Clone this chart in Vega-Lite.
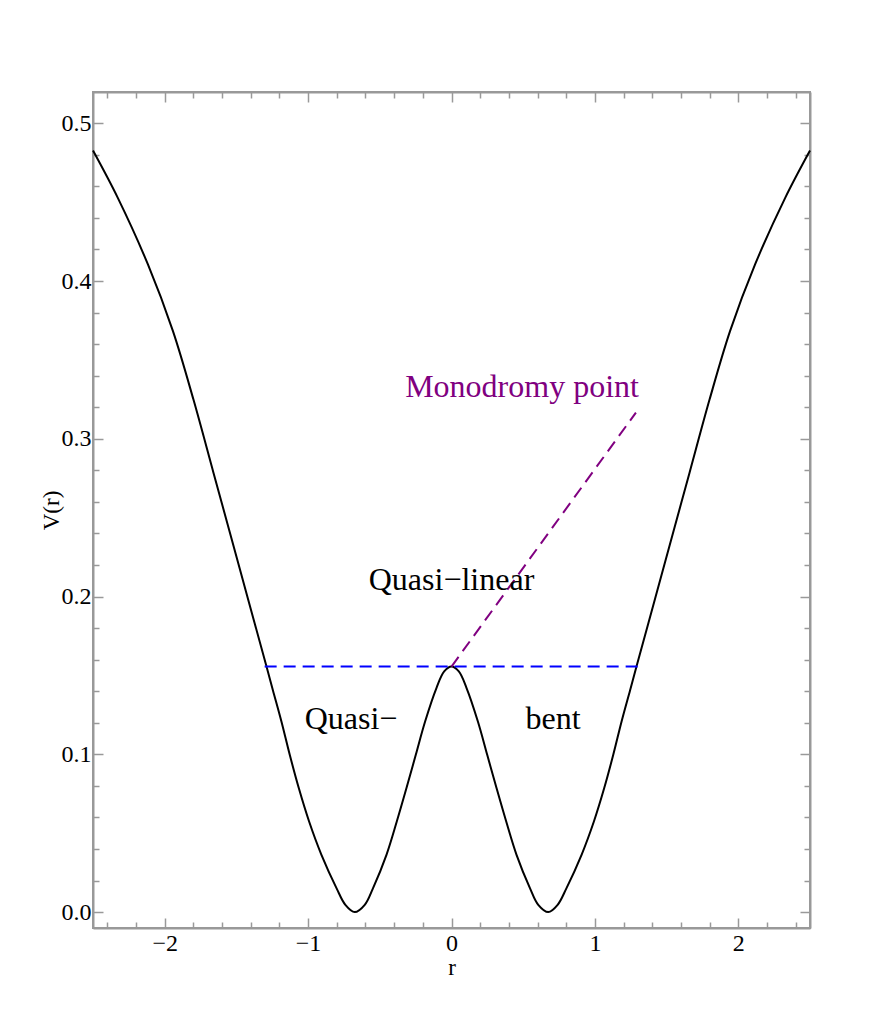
{
  "$schema": "https://vega.github.io/schema/vega-lite/v6.json",
  "width": 717,
  "height": 836,
  "autosize": {"type": "none"},
  "padding": {"left": 93, "top": 92, "right": 79, "bottom": 81},
  "background": "white",
  "config": {
    "view": {"stroke": "#999999", "strokeWidth": 2},
    "font": "Liberation Serif",
    "axis": {
      "domainColor": "#999999",
      "domainWidth": 2,
      "tickColor": "#999999",
      "tickWidth": 1.5,
      "labelFont": "Liberation Serif",
      "labelFontSize": 24,
      "labelColor": "black",
      "titleFont": "Liberation Serif",
      "titleFontSize": 23,
      "titleFontWeight": "normal",
      "titleColor": "black",
      "grid": false,
      "labelOverlap": false,
      "labelFlush": false
    }
  },
  "datasets": {
    "curve": [
      {"r": -2.5, "v": 0.4827},
      {"r": -2.327, "v": 0.4527},
      {"r": -2.117, "v": 0.4105},
      {"r": -1.943, "v": 0.3684},
      {"r": -1.8, "v": 0.325},
      {"r": -1.66, "v": 0.2785},
      {"r": -1.55, "v": 0.242},
      {"r": -1.42, "v": 0.1988},
      {"r": -1.29, "v": 0.1556},
      {"r": -1.245, "v": 0.1405},
      {"r": -1.186, "v": 0.1208},
      {"r": -1.128, "v": 0.0997},
      {"r": -1.065, "v": 0.0786},
      {"r": -0.993, "v": 0.0574},
      {"r": -0.907, "v": 0.0363},
      {"r": -0.802, "v": 0.0152},
      {"r": -0.74, "v": 0.0046},
      {"r": -0.675, "v": 0.0},
      {"r": -0.605, "v": 0.0046},
      {"r": -0.547, "v": 0.0152},
      {"r": -0.4535, "v": 0.0363},
      {"r": -0.3816, "v": 0.0574},
      {"r": -0.314, "v": 0.0786},
      {"r": -0.249, "v": 0.0997},
      {"r": -0.184, "v": 0.1208},
      {"r": -0.105, "v": 0.142},
      {"r": -0.051, "v": 0.1525},
      {"r": 0.0, "v": 0.1556},
      {"r": 0.051, "v": 0.1525},
      {"r": 0.105, "v": 0.142},
      {"r": 0.184, "v": 0.1208},
      {"r": 0.249, "v": 0.0997},
      {"r": 0.314, "v": 0.0786},
      {"r": 0.3816, "v": 0.0574},
      {"r": 0.4535, "v": 0.0363},
      {"r": 0.547, "v": 0.0152},
      {"r": 0.605, "v": 0.0046},
      {"r": 0.675, "v": 0.0},
      {"r": 0.74, "v": 0.0046},
      {"r": 0.802, "v": 0.0152},
      {"r": 0.907, "v": 0.0363},
      {"r": 0.993, "v": 0.0574},
      {"r": 1.065, "v": 0.0786},
      {"r": 1.128, "v": 0.0997},
      {"r": 1.186, "v": 0.1208},
      {"r": 1.245, "v": 0.1405},
      {"r": 1.29, "v": 0.1556},
      {"r": 1.42, "v": 0.1988},
      {"r": 1.55, "v": 0.242},
      {"r": 1.66, "v": 0.2785},
      {"r": 1.8, "v": 0.325},
      {"r": 1.943, "v": 0.3684},
      {"r": 2.117, "v": 0.4105},
      {"r": 2.327, "v": 0.4527},
      {"r": 2.5, "v": 0.4827}
    ],
    "level": [
      {"r": -1.303, "v": 0.1556},
      {"r": 1.298, "v": 0.1556}
    ],
    "mono": [
      {"r": 0.0, "v": 0.1556},
      {"r": 1.286, "v": 0.3166}
    ],
    "purpleText": [
      {"r": 0.492, "v": 0.3329, "label": "Monodromy point"}
    ],
    "blackText": [
      {"r": 0.0, "v": 0.2103, "label": "Quasi−linear"},
      {"r": -0.701, "v": 0.1226, "label": "Quasi−"},
      {"r": 0.708, "v": 0.1226, "label": "bent"}
    ]
  },
  "resolve": {"axis": {"x": "independent", "y": "independent"}},
  "layer": [
    {
      "data": {"name": "curve"},
      "mark": {"type": "line", "color": "black", "strokeWidth": 2, "interpolate": "catmull-rom"},
      "encoding": {
        "x": {
          "field": "r", "type": "quantitative",
          "scale": {"domain": [-2.5, 2.5], "nice": false, "zero": false},
          "axis": {
            "orient": "bottom",
            "title": "r",
            "values": [-2.4, -2.2, -2, -1.8, -1.6, -1.4, -1.2, -1, -0.8, -0.6, -0.4, -0.2, 0, 0.2, 0.4, 0.6, 0.8, 1, 1.2, 1.4, 1.6, 1.8, 2, 2.2, 2.4],
            "labelExpr": "abs(datum.value % 1) < 0.001 ? replace(format(datum.value, 'd'), '-', '−') : ''",
            "tickSize": {"condition": {"test": "abs(datum.value % 1) < 0.001", "value": -10}, "value": -6},
            "labelPadding": 13,
            "titlePadding": -3
          }
        },
        "y": {
          "field": "v", "type": "quantitative",
          "scale": {"domain": [-0.0101, 0.5198], "nice": false, "zero": false},
          "axis": {
            "orient": "left",
            "title": "V(r)",
            "values": [0, 0.02, 0.04, 0.06, 0.08, 0.1, 0.12, 0.14, 0.16, 0.18, 0.2, 0.22, 0.24, 0.26, 0.28, 0.3, 0.32, 0.34, 0.36, 0.38, 0.4, 0.42, 0.44, 0.46, 0.48, 0.5],
            "labelExpr": "round(datum.value * 100) % 10 === 0 ? format(datum.value, '.1f') : ''",
            "tickSize": {"condition": {"test": "round(datum.value * 100) % 10 === 0", "value": -10}, "value": -6},
            "labelPadding": 12,
            "titlePadding": -2
          }
        }
      }
    },
    {
      "data": {"name": "level"},
      "mark": {"type": "line", "color": "#0000ff", "strokeWidth": 2, "strokeDash": [12, 7]},
      "encoding": {
        "x": {
          "field": "r", "type": "quantitative",
          "scale": {"domain": [-2.5, 2.5], "nice": false, "zero": false},
          "axis": {
            "orient": "top",
            "title": null,
            "labels": false,
            "values": [-2.4, -2.2, -2, -1.8, -1.6, -1.4, -1.2, -1, -0.8, -0.6, -0.4, -0.2, 0, 0.2, 0.4, 0.6, 0.8, 1, 1.2, 1.4, 1.6, 1.8, 2, 2.2, 2.4],
            "tickSize": {"condition": {"test": "abs(datum.value % 1) < 0.001", "value": -10}, "value": -6}
          }
        },
        "y": {
          "field": "v", "type": "quantitative",
          "scale": {"domain": [-0.0101, 0.5198], "nice": false, "zero": false},
          "axis": {
            "orient": "right",
            "title": null,
            "labels": false,
            "values": [0, 0.02, 0.04, 0.06, 0.08, 0.1, 0.12, 0.14, 0.16, 0.18, 0.2, 0.22, 0.24, 0.26, 0.28, 0.3, 0.32, 0.34, 0.36, 0.38, 0.4, 0.42, 0.44, 0.46, 0.48, 0.5],
            "tickSize": {"condition": {"test": "round(datum.value * 100) % 10 === 0", "value": -10}, "value": -6}
          }
        }
      }
    },
    {
      "data": {"name": "mono"},
      "mark": {"type": "line", "color": "#800080", "strokeWidth": 2, "strokeDash": [12, 7]},
      "encoding": {
        "x": {"field": "r", "type": "quantitative", "scale": {"domain": [-2.5, 2.5], "nice": false, "zero": false}, "axis": null},
        "y": {"field": "v", "type": "quantitative", "scale": {"domain": [-0.0101, 0.5198], "nice": false, "zero": false}, "axis": null}
      }
    },
    {
      "data": {"name": "purpleText"},
      "mark": {"type": "text", "color": "#800080", "font": "Liberation Serif", "fontSize": 32, "align": "center", "baseline": "middle"},
      "encoding": {
        "x": {"field": "r", "type": "quantitative", "scale": {"domain": [-2.5, 2.5], "nice": false, "zero": false}, "axis": null},
        "y": {"field": "v", "type": "quantitative", "scale": {"domain": [-0.0101, 0.5198], "nice": false, "zero": false}, "axis": null},
        "text": {"field": "label"}
      }
    },
    {
      "data": {"name": "blackText"},
      "mark": {"type": "text", "color": "black", "font": "Liberation Serif", "fontSize": 32, "align": "center", "baseline": "middle"},
      "encoding": {
        "x": {"field": "r", "type": "quantitative", "scale": {"domain": [-2.5, 2.5], "nice": false, "zero": false}, "axis": null},
        "y": {"field": "v", "type": "quantitative", "scale": {"domain": [-0.0101, 0.5198], "nice": false, "zero": false}, "axis": null},
        "text": {"field": "label"}
      }
    }
  ]
}
